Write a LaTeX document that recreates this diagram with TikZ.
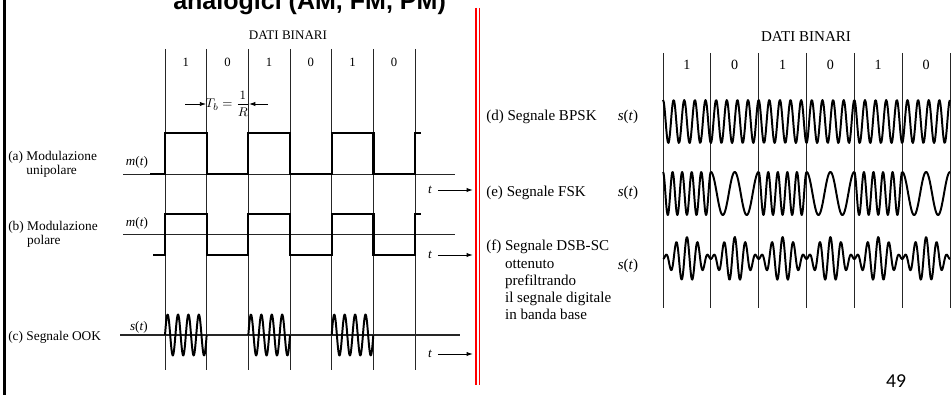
\documentclass[tikz,border=0pt]{standalone}
\usepackage{fontspec}
\setmainfont{Liberation Serif}
\newfontfamily\slidesans{Liberation Sans}
\newfontfamily\slidenum{Carlito}
\usetikzlibrary{arrows.meta}
\tikzset{
  >={Latex[length=4.5pt,width=3pt]},
  gridline/.style={black!85,line width=0.55pt},
  zeroline/.style={black!85,line width=0.6pt},
  wave/.style={line width=1.7pt,line join=miter},
  carrier/.style={line width=1.4pt,line join=round},
  tarrow/.style={->,line width=0.7pt,shorten <=4pt},
  lbl/.style={anchor=west,inner sep=0pt,align=left,font=\fontsize{9.5}{10}\selectfont},
  rlbl/.style={anchor=west,inner sep=0pt,align=left,font=\fontsize{10.7}{12.2}\selectfont},
  sig/.style={inner sep=0pt,font=\fontsize{9.3}{10}\selectfont},
  rsig/.style={inner sep=0pt,font=\fontsize{10.7}{12}\selectfont},
  bit/.style={inner sep=0pt,font=\fontsize{#1}{10}\selectfont},
  bit/.default=9,
  headtext/.style={inner sep=0pt,font=\fontsize{#1}{11}\selectfont},
  headtext/.default=9.3,
}

\begin{document}
\begin{tikzpicture}[x=0.025cm,y=-0.025cm]
  \useasboundingbox (0,0) rectangle (951,394);
  % slide frame
  \draw[line width=2pt] (4.7,-5) -- (4.7,400);
  \node[anchor=base west,inner sep=0pt,font=\slidesans\bfseries\fontsize{17.8}{20}\selectfont] (title) at (173,10) {analogici (AM, FM, PM)};
  \draw[red,line width=0.9pt] (476,8) -- (476,385) (479.5,8) -- (479.5,385);
  \node[inner sep=0pt,font=\slidenum\fontsize{14}{16}\selectfont] (page) at (896,381) {49};

  % left figure: baseband and OOK
  \node[headtext] (datiL) at (288,35) {DATI BINARI};
  \foreach \k in {0,...,6} \draw[gridline] ({165+41.667*\k},49) -- ({165+41.667*\k},370);
  \foreach \b [count=\k from 0] in {1,0,1,0,1,0} \node[bit] (bitL\k) at ({185.8+41.667*\k},62) {\b};
  \node[sig] (Tb) at (227.5,104) {$\displaystyle T_b=\frac{1}{R}$};
  \coordinate (tbA) at (185,104); \coordinate (tbB) at (206.2,104);
  \coordinate (tbC) at (268,104); \coordinate (tbD) at (249,104);
  \draw[->,line width=0.6pt] (tbA) -- (tbB);
  \draw[->,line width=0.6pt] (tbC) -- (tbD);

  \node[lbl] (labA) at (8,164) {(a) Modulazione\\\phantom{(a) }unipolare};
  \node[sig] (mA) at (137,162) {\textit{m}(\textit{t})};
  \draw[zeroline] (123,174) -- (455,174);
  \draw[wave] (150,174) -- (165,174) |- (206.7,133) |- (248.3,174) |- (290,133) |- (331.7,174) |- (373.3,133) |- (415,174) |- (421,133);

  \node[lbl] (labB) at (8,234.5) {(b) Modulazione\\\phantom{(b) }polare};
  \node[sig] (mB) at (137,223) {\textit{m}(\textit{t})};
  \draw[zeroline] (123,234) -- (455,234);
  \draw[wave] (153,255) -- (165,255) |- (206.7,214) |- (248.3,255) |- (290,214) |- (331.7,255) |- (373.3,214) |- (415,255) |- (421,214);

  \node[lbl] (labC) at (8,337) {(c) Segnale OOK};
  \node[sig] (sC) at (139,327) {\textit{s}(\textit{t})};
  \draw[zeroline,line width=0.9pt] (120,335) -- (460,335);
  \foreach \k in {0,2,4}
    \draw[carrier] plot[domain=0:1,samples=90,smooth] ({165+41.667*(\k+\x)},{335-20.5*sin(1440*\x)});

  \foreach \n/\y in {a/190,b/255,c/354} {
    \node[sig] (t\n) at (430,\y) {\textit{t}};
    \coordinate (tend\n) at (473,\y);
    \draw[tarrow] (t\n.east) -- (tend\n);
  }

  % right figure: BPSK, FSK, DSB-SC
  \node[headtext=10.7] (datiR) at (806,37) {DATI BINARI};
  \foreach \k in {0,...,6} \draw[gridline] ({663+47.833*\k},53) -- ({663+47.833*\k},308);
  \foreach \b [count=\k from 0] in {1,0,1,0,1,0} \node[bit=10] (bitR\k) at ({686.9+47.833*\k},65) {\b};

  \node[rlbl] (labD) at (486,117) {(d) Segnale BPSK};
  \node[rsig] (sD) at (628,117) {\textit{s}(\textit{t})};
  \draw[carrier] plot[domain=0:6,samples=420,smooth] ({663+47.833*\x},{121.5-21.5*cos(1620*\x)});

  \node[rlbl] (labE) at (486,193) {(e) Segnale FSK};
  \node[rsig] (sE) at (628,193) {\textit{s}(\textit{t})};
  \foreach \f [count=\k from 0] in {5,2,5,2,5,2}
    \draw[carrier] plot[domain=0:1,samples=110,smooth] ({663+47.833*(\k+\x)},{193.5-21.5*cos(360*\f*\x)});

  \node[rlbl] (labF) at (486,281.5) {(f) Segnale DSB-SC\\\phantom{(f) }ottenuto\\\phantom{(f) }prefiltrando\\\phantom{(f) }il segnale digitale\\\phantom{(f) }in banda base};
  \node[rsig] (sF) at (628,266) {\textit{s}(\textit{t})};
  \draw[carrier] plot[domain=0:6,samples=500,smooth] ({663+47.833*\x},{259-22*sin(180*\x)*sin(1620*\x)});
\end{tikzpicture}
\end{document}
